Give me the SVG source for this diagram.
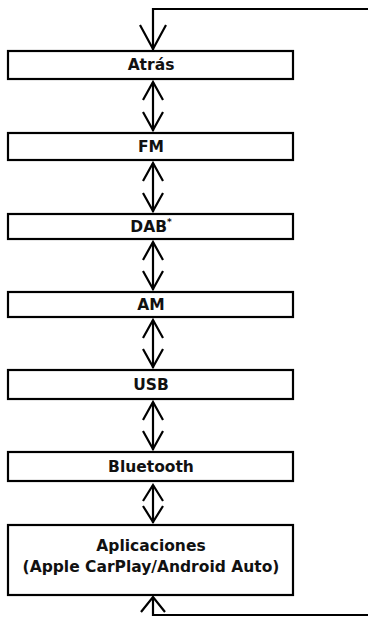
<svg xmlns="http://www.w3.org/2000/svg" width="368" height="617" viewBox="0 0 368 617">
<style>
.box{fill:#fff;stroke:#000;stroke-width:2.2}
.ln{fill:none;stroke:#000;stroke-width:2.2}
.hd{fill:none;stroke:#000;stroke-width:2.2;stroke-linejoin:miter}
text{font-family:"DejaVu Sans","Open Sans",sans-serif;font-weight:bold;font-size:15.5px;text-anchor:middle;fill:#111}
</style>
<rect width="368" height="617" fill="#fff"/>
<g id="connectors">
<polyline class="ln" points="368,9 153,9 153,50"/>
<polyline class="hd" points="140,25 153,49 166,25"/>
<line class="ln" x1="153" y1="82" x2="153" y2="131"/>
<polyline class="hd" points="143,100 153,82 163,100"/>
<polyline class="hd" points="143,112 153,130 163,112"/>
<line class="ln" x1="153" y1="163" x2="153" y2="212"/>
<polyline class="hd" points="143,181 153,163 163,181"/>
<polyline class="hd" points="143,193 153,211 163,193"/>
<line class="ln" x1="153" y1="242" x2="153" y2="290"/>
<polyline class="hd" points="143,260 153,242 163,260"/>
<polyline class="hd" points="143,271 153,289 163,271"/>
<line class="ln" x1="153" y1="320" x2="153" y2="368"/>
<polyline class="hd" points="143,338 153,320 163,338"/>
<polyline class="hd" points="143,349 153,367 163,349"/>
<line class="ln" x1="153" y1="402" x2="153" y2="450"/>
<polyline class="hd" points="143,420 153,402 163,420"/>
<polyline class="hd" points="143,431 153,449 163,431"/>
<line class="ln" x1="153" y1="485" x2="153" y2="523"/>
<polyline class="hd" points="143,501 153,485 163,501"/>
<polyline class="hd" points="143,506 153,522 163,506"/>
<polyline class="ln" points="153,597 153,615 368,615"/>
<polyline class="hd" points="141,612 153,597 165,612"/>
</g>
<g id="atras"><rect class="box" x="8" y="51" width="285" height="28"/><text x="151" y="70">Atrás</text></g>
<g id="fm"><rect class="box" x="8" y="133" width="285" height="27"/><text x="151" y="152">FM</text></g>
<g id="dab"><rect class="box" x="8" y="214" width="285" height="25"/><text x="151" y="232">DAB<tspan font-size="9" dy="-7">*</tspan></text></g>
<g id="am"><rect class="box" x="8" y="292" width="285" height="25"/><text x="151" y="310">AM</text></g>
<g id="usb"><rect class="box" x="8" y="370" width="285" height="29"/><text x="151" y="390">USB</text></g>
<g id="bluetooth"><rect class="box" x="8" y="452" width="285" height="29"/><text x="151" y="472">Bluetooth</text></g>
<g id="aplicaciones"><rect class="box" x="8" y="525" width="285" height="70"/><text x="151" y="551">Aplicaciones</text><text x="151" y="572">(Apple CarPlay/Android Auto)</text></g>
</svg>
